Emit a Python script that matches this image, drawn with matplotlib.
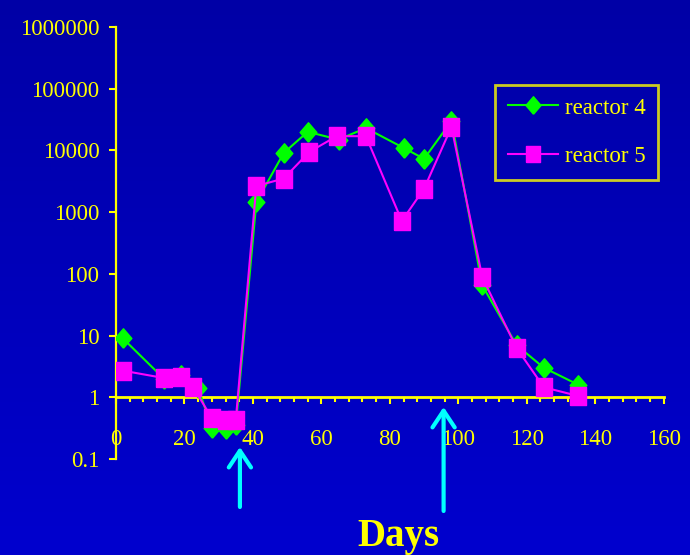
import numpy as np
import matplotlib
matplotlib.use("Agg")
import matplotlib.pyplot as plt
from matplotlib.colors import LinearSegmentedColormap
from matplotlib.ticker import FixedLocator, FixedFormatter, MultipleLocator, NullLocator

# values
days_r4 = [2, 14, 19, 24, 28, 32, 35, 41, 49, 56, 65, 73, 84, 90, 98, 107, 117, 125, 135]
reactor4 = [9.0, 2.0, 2.3, 1.4, 0.32, 0.31, 0.35, 1450, 9100, 20000, 15000, 23000,
            11000, 7300, 30000, 65, 7.0, 3.0, 1.6]

days_r5 = [2, 14, 19, 22.5, 28, 32, 35, 41, 49, 56.5, 64.5, 73, 83.5, 90, 98, 107, 117, 125, 135]
reactor5 = [2.7, 2.05, 2.1, 1.47, 0.46, 0.43, 0.43, 2650, 3500, 9500, 17000, 17000,
            720, 2400, 24000, 88, 6.3, 1.45, 1.05]

series_labels = ["reactor 4", "reactor 5"]
y_ticks = [0.1, 1, 10, 100, 1000, 10000, 100000, 1000000]
y_ticklabels = ["0.1", "1", "10", "100", "1000", "10000", "100000", "1000000"]
x_ticks = [0, 20, 40, 60, 80, 100, 120, 140, 160]
arrow_days = [36.2, 95.7]
xlabel = "Days"

YELLOW = "#FFFF00"
GREEN = "#00FF00"
MAGENTA = "#FF00FF"
CYAN = "#00FFFF"
SERIF = ["Liberation Serif", "DejaVu Serif"]

fig = plt.figure(figsize=(6.9, 5.55), dpi=100)

# blue gradient background
bg = fig.add_axes([0, 0, 1, 1], zorder=-10)
cmap = LinearSegmentedColormap.from_list("bg", ["#0000A6", "#0000CE"])
bg.imshow(np.linspace(0, 1, 256).reshape(-1, 1), aspect="auto", cmap=cmap,
          extent=[0, 1, 0, 1])
bg.axis("off")

ax = fig.add_axes([0.1681, 0.1730, 0.7938, 0.7784])
ax.patch.set_alpha(0)

diamond = [(0, -0.5), (0.43, 0), (0, 0.5), (-0.43, 0), (0, -0.5)]
rect = [(-0.42, -0.5), (0.42, -0.5), (0.42, 0.5), (-0.42, 0.5), (-0.42, -0.5)]

ax.plot(days_r4, reactor4, color=GREEN, lw=1.5, marker=diamond, ms=14,
        mfc=GREEN, mec=GREEN, label=series_labels[0], zorder=3)
ax.plot(days_r5, reactor5, color=MAGENTA, lw=1.5, marker=rect, ms=13.5,
        mfc=MAGENTA, mec=MAGENTA, label=series_labels[1], zorder=4)

ax.set_yscale("log")
ax.set_ylim(0.1, 1000000)
ax.set_xlim(0, 160)

for s in ["top", "right"]:
    ax.spines[s].set_visible(False)
ax.spines["left"].set_color(YELLOW)
ax.spines["left"].set_linewidth(1.6)
ax.spines["bottom"].set_color(YELLOW)
ax.spines["bottom"].set_linewidth(2)
ax.spines["bottom"].set_position(("data", 1))

ax.yaxis.set_major_locator(FixedLocator(y_ticks))
ax.yaxis.set_major_formatter(FixedFormatter(y_ticklabels))
ax.yaxis.set_minor_locator(NullLocator())
ax.xaxis.set_major_locator(FixedLocator(x_ticks))
ax.xaxis.set_minor_locator(MultipleLocator(4))

ax.tick_params(axis="y", colors=YELLOW, length=5, width=1.5, pad=7, labelsize=16.5)
ax.tick_params(axis="x", which="major", colors=YELLOW, length=5, width=1.5,
               pad=18, labelsize=16.5)
ax.tick_params(axis="x", which="minor", colors=YELLOW, length=3.6, width=1.5)
for lab in ax.get_xticklabels() + ax.get_yticklabels():
    lab.set_family(SERIF)

leg = ax.legend(loc="upper right", bbox_to_anchor=(0.99, 0.866), borderaxespad=0,
                frameon=True, fancybox=False, facecolor="none", edgecolor=YELLOW,
                prop={"family": SERIF, "size": 16.5}, labelcolor=YELLOW,
                handlelength=2.2, handletextpad=0.3, labelspacing=1.2,
                borderpad=0.55, markerscale=0.9)
leg.get_frame().set_linewidth(2)

tips = [0.1946, 0.2667]
tails = [0.0865, 0.0793]
for d, tip, tail in zip(arrow_days, tips, tails):
    ax.annotate("", xy=(d, tip), xycoords=("data", "figure fraction"),
                xytext=(d, tail), textcoords=("data", "figure fraction"),
                arrowprops=dict(arrowstyle="->,head_length=0.6,head_width=0.4",
                                color=CYAN, lw=3, shrinkA=0, shrinkB=0,
                                mutation_scale=20), annotation_clip=False)

fig.text(398 / 690, 0.0168, xlabel, color=YELLOW, fontsize=28, fontweight="bold",
         family=SERIF, ha="center", va="baseline")

fig.savefig("out.png", dpi=100)
